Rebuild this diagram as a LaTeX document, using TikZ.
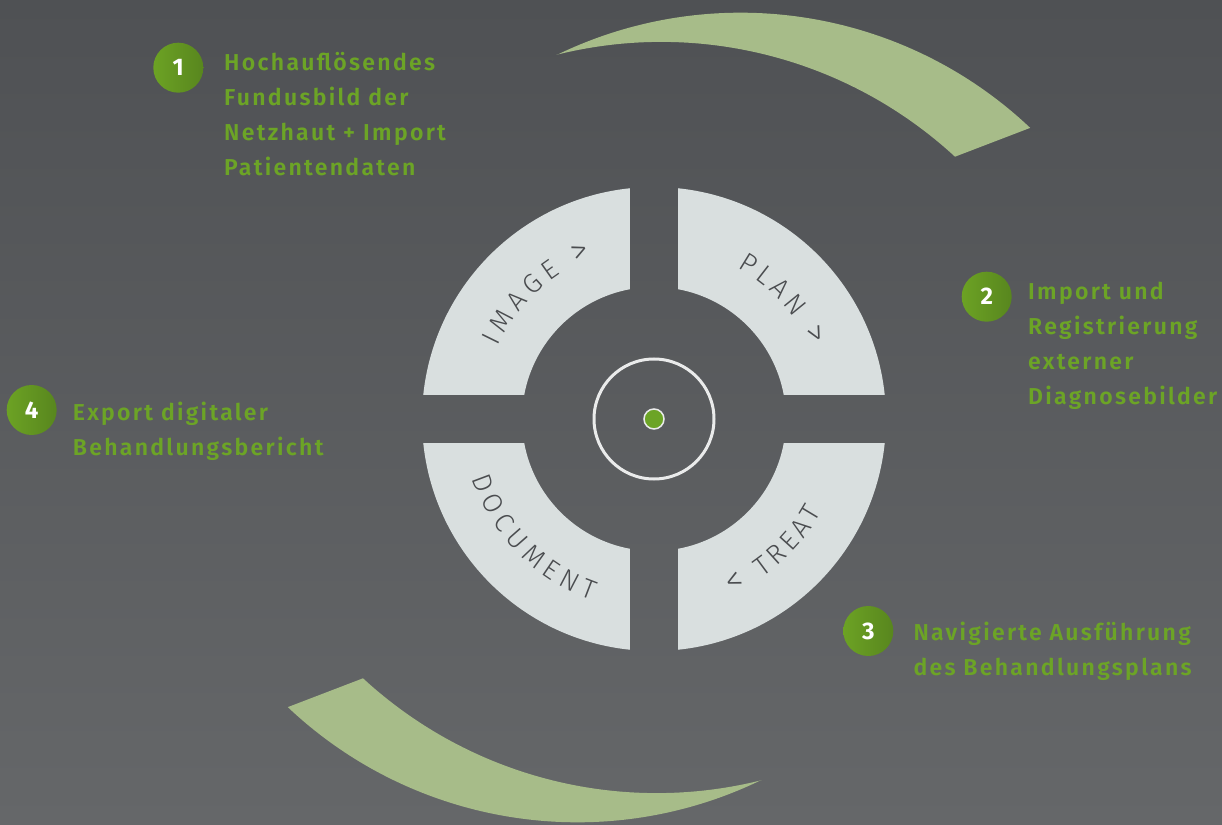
\documentclass[tikz,border=0pt]{standalone}
\usepackage{fontspec}
\usetikzlibrary{decorations.text}
\newfontfamily\stepfont{Fira Sans SemiBold}[LetterSpace=10]
\newfontfamily\ringfont{Fira Sans Light}
\newfontfamily\numfont{Fira Sans Bold}
\definecolor{bgtop}{RGB}{79,81,84}
\definecolor{bgbot}{RGB}{101,103,105}
\definecolor{ringgray}{RGB}{217,223,223}
\definecolor{ringtext}{RGB}{74,76,79}
\definecolor{stepgreen}{RGB}{108,164,38}
\definecolor{badgegreen}{RGB}{108,162,36}
\definecolor{badgedark}{RGB}{88,134,30}
\definecolor{leafgreen}{RGB}{167,188,137}
\definecolor{targetwhite}{RGB}{234,235,235}

\begin{document}
\begin{tikzpicture}[
    x=1pt, y=1pt,
    seg/.style={fill=ringgray},
    leaf/.style={fill=leafgreen},
    badge/.style={circle, inner sep=0pt, minimum size=50pt,
        left color=badgegreen, right color=badgedark, text=white,
        font=\numfont\fontsize{24}{24}\selectfont},
    steptext/.style={anchor=north west, inner sep=0pt, align=left,
        text=stepgreen, font=\stepfont\fontsize{23}{35}\selectfont},
    target/.style={circle, draw=targetwhite, line width=3pt,
        minimum size=120pt, inner sep=0pt},
    dot/.style={circle, fill=stepgreen, draw=targetwhite, line width=1.5pt,
        minimum size=20pt, inner sep=0pt},
    ringlabel/.style={decorate, decoration={text along path,
        text align=fit to path,
        text={|\ringfont\fontsize{27}{27}\selectfont\color{ringtext}|#1}}},
]
% bigger chevrons inside the ring labels
\def\chev{\ringfont\fontsize{34}{34}\selectfont\color{ringtext}}

% ====== BACKGROUND ======
\useasboundingbox (-654,-405) rectangle (568,419);
\shade[top color=bgtop, bottom color=bgbot] (-654,-405) rectangle (568,419);

% ====== GREEN LEAVES ======
\foreach \r in {0,180}
    \fill[leaf, rotate around={\r:(5,1.5)}]
        (-97.3,364) arc[start angle=115.9, end angle=46.6, radius=421.3]
        -- (301,262.3) arc[start angle=47.3, end angle=104, radius=433]
        -- cycle;

% ====== RING: four quarters ======
\foreach \q in {0,90,180,270}
    \fill[seg, rotate=\q]
        (84.06:232) arc[start angle=84.06, end angle=5.94, radius=232]
        -- (10.48:132) arc[start angle=10.48, end angle=79.52, radius=132]
        -- cycle;

\path[ringlabel={IMAGE |\chev|>}] (155:172.5) arc[start angle=155, end angle=111, radius=172.5];
\path[ringlabel={PLAN |\chev|>}]  (61:172.5)  arc[start angle=61, end angle=25, radius=172.5];
\path[ringlabel={DOCUMENT}]       (198:191.5) arc[start angle=198, end angle=251, radius=191.5];
\path[ringlabel={|\chev|< |\ringfont\fontsize{27}{27}\selectfont\color{ringtext}|TREAT}]
    (294:191.5) arc[start angle=294, end angle=331, radius=191.5];

% ====== CENTRE ======
\node[target] (ctr)     at (0,0) {};
\node[dot]    (ctr-dot) at (0,0) {};

% ====== STEPS ======
\node[badge]    (b1) at (-475.7,351.3) {1};
\node[steptext] (t1) at (-430,367)
    {Hochauflösendes\\Fundusbild der\\Netzhaut + Import\\Patientendaten};

\node[badge]    (b2) at (332.7,122.3) {2};
\node[steptext] (t2) at (374,137)
    {Import und\\Registrierung\\externer\\Diagnosebilder};

\node[badge]    (b3) at (214.3,-212) {3};
\node[steptext] (t3) at (259.3,-202.5)
    {Navigierte Ausführung\\des Behandlungsplans};

\node[badge]    (b4) at (-622.3,9) {4};
\node[steptext] (t4) at (-581.3,17)
    {Export digitaler\\Behandlungsbericht};

\end{tikzpicture}
\end{document}
